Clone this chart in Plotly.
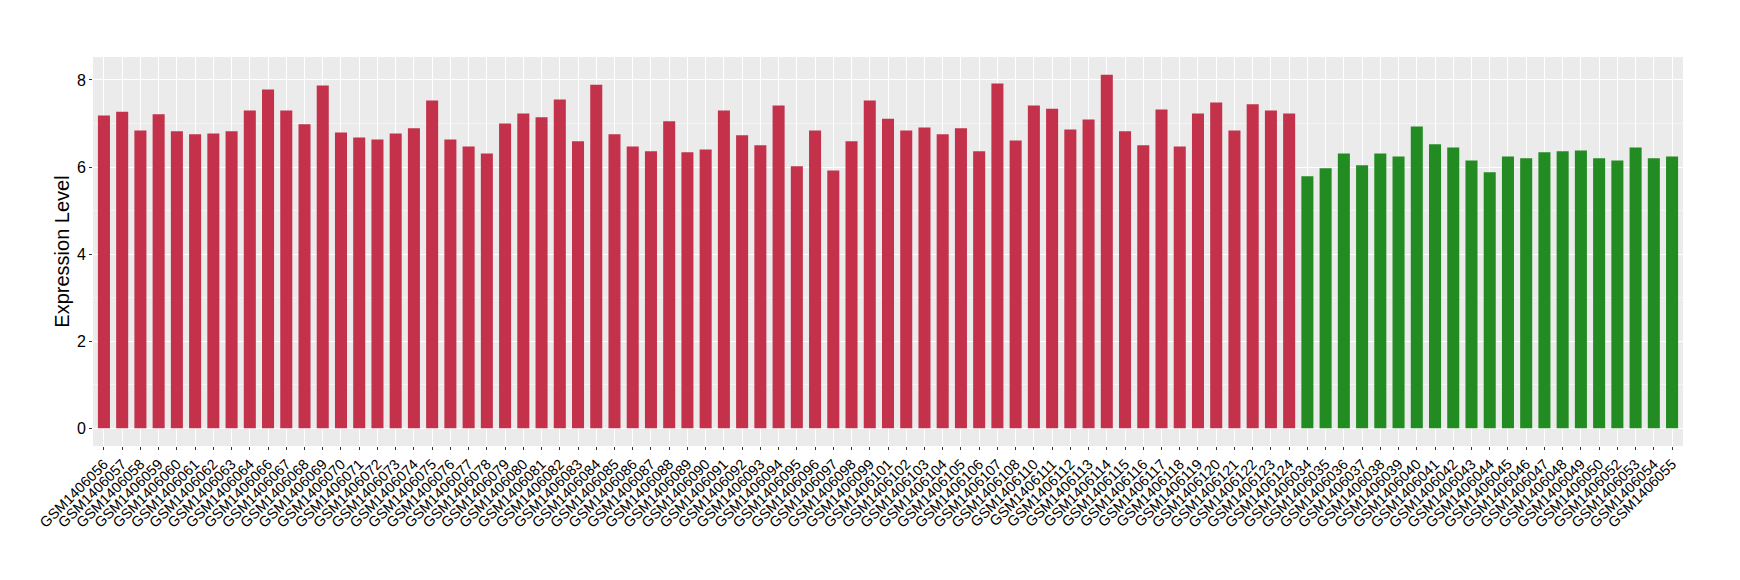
import plotly.graph_objects as go

tumor_ids = ["GSM1406056","GSM1406057","GSM1406058","GSM1406059","GSM1406060","GSM1406061","GSM1406062","GSM1406063","GSM1406064",
             "GSM1406066","GSM1406067","GSM1406068","GSM1406069","GSM1406070","GSM1406071","GSM1406072","GSM1406073","GSM1406074",
             "GSM1406075","GSM1406076","GSM1406077","GSM1406078","GSM1406079","GSM1406080","GSM1406081","GSM1406082","GSM1406083",
             "GSM1406084","GSM1406085","GSM1406086","GSM1406087","GSM1406088","GSM1406089","GSM1406090","GSM1406091","GSM1406092",
             "GSM1406093","GSM1406094","GSM1406095","GSM1406096","GSM1406097","GSM1406098","GSM1406099",
             "GSM1406101","GSM1406102","GSM1406103","GSM1406104","GSM1406105","GSM1406106","GSM1406107","GSM1406108",
             "GSM1406110","GSM1406111","GSM1406112","GSM1406113","GSM1406114","GSM1406115","GSM1406116","GSM1406117",
             "GSM1406118","GSM1406119","GSM1406120","GSM1406121","GSM1406122","GSM1406123","GSM1406124"]
tumor_vals = [7.18, 7.27, 6.84, 7.21, 6.82, 6.75, 6.77, 6.82, 7.30,
              7.78, 7.30, 6.98, 7.87, 6.79, 6.68, 6.63, 6.77, 6.89,
              7.53, 6.63, 6.47, 6.31, 7.00, 7.23, 7.14, 7.55, 6.59,
              7.89, 6.75, 6.47, 6.36, 7.05, 6.34, 6.40, 7.30, 6.73,
              6.50, 7.41, 6.02, 6.84, 5.92, 6.59, 7.53,
              7.11, 6.84, 6.91, 6.75, 6.89, 6.36, 7.92, 6.61,
              7.41, 7.34, 6.86, 7.09, 8.12, 6.82, 6.50, 7.32,
              6.47, 7.23, 7.48, 6.84, 7.44, 7.30, 7.23]

normal_ids = ["GSM1406034","GSM1406035","GSM1406036","GSM1406037","GSM1406038","GSM1406039","GSM1406040","GSM1406041",
              "GSM1406042","GSM1406043","GSM1406044","GSM1406045","GSM1406046","GSM1406047","GSM1406048","GSM1406049",
              "GSM1406050","GSM1406052","GSM1406053","GSM1406054","GSM1406055"]
normal_vals = [5.79, 5.97, 6.31, 6.04, 6.31, 6.24, 6.93, 6.52,
               6.45, 6.15, 5.88, 6.24, 6.20, 6.34, 6.36, 6.38,
               6.20, 6.15, 6.45, 6.20, 6.24]

red = "#C3314A"
green = "#228B22"
all_ids = tumor_ids + normal_ids
n = len(all_ids)
ymax = max(tumor_vals + normal_vals)

fig = go.Figure()
fig.add_trace(go.Bar(x=tumor_ids, y=tumor_vals, marker=dict(color=red, line=dict(width=0)), showlegend=False))
fig.add_trace(go.Bar(x=normal_ids, y=normal_vals, marker=dict(color=green, line=dict(width=0)), showlegend=False))

fig.update_layout(
    width=1740, height=580,
    margin=dict(l=93, r=57, t=57, b=134, autoexpand=False),
    paper_bgcolor="white", plot_bgcolor="#EBEBEB",
    bargap=0.34, barmode="overlay",
    font=dict(family="Liberation Sans, Arial, sans-serif", color="black"),
)
fig.update_xaxes(
    type="category", categoryorder="array", categoryarray=all_ids,
    range=[-0.6, n - 0.4], automargin=False,
    showgrid=True, gridcolor="white", gridwidth=1.1,
    tickangle=-45, tickfont=dict(size=14.5, color="black"),
    ticks="outside", ticklen=3, tickcolor="#333333", tickwidth=1,
    showline=False, zeroline=False,
)
fig.update_yaxes(
    range=[-0.05 * ymax, 1.05 * ymax], automargin=False,
    tickvals=[0, 2, 4, 6, 8],
    showgrid=True, gridcolor="white", gridwidth=1.2,
    minor=dict(tickvals=[1, 3, 5, 7], showgrid=True, gridcolor="#F5F5F5", gridwidth=0.6),
    tickfont=dict(size=16, color="black"),
    ticks="outside", ticklen=3, tickcolor="#333333", tickwidth=1,
    zeroline=False, showline=False,
    title=dict(text="Expression Level", font=dict(size=20, color="black"), standoff=1),
)

fig.write_html("out.html", config={"displayModeBar": False},
               post_script="document.body.style.margin='0';document.body.style.overflow='hidden';")
